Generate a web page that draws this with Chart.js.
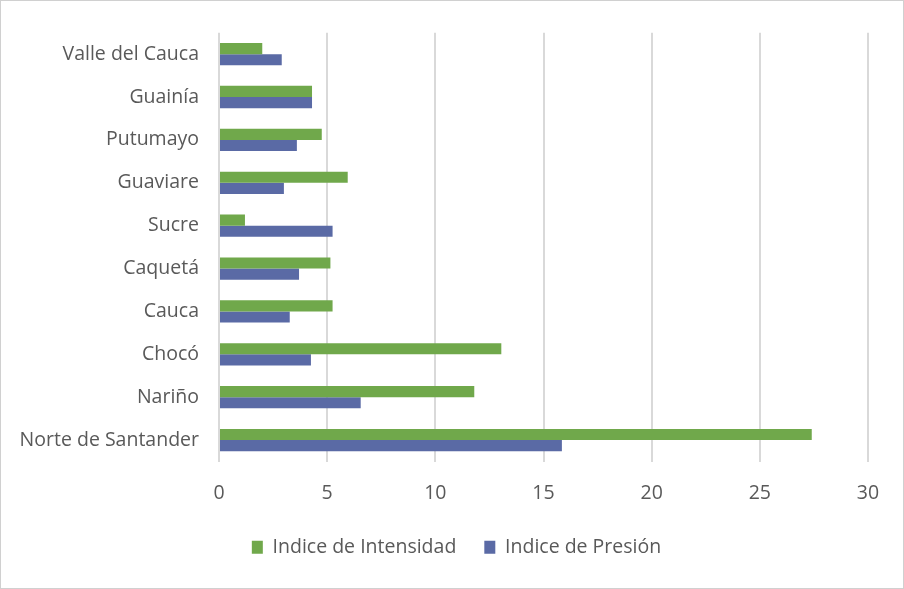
<!DOCTYPE html>
<html>
<head>
<meta charset="utf-8">
<script src="https://cdn.jsdelivr.net/npm/chart.js@4.4.1/dist/chart.umd.min.js"></script>
<style>
  html, body { margin: 0; padding: 0; background: #fff; }
  #wrap { width: 904px; height: 589px; box-sizing: border-box; border: 1px solid #d0d0d0; position: relative; }
</style>
</head>
<body>
<div id="wrap"><canvas id="barChart"></canvas></div>
<script>
const categories = ['Valle del Cauca', 'Guainía', 'Putumayo', 'Guaviare', 'Sucre', 'Caquetá', 'Cauca', 'Chocó', 'Nariño', 'Norte de Santander'];
const intensidad = [2.0, 4.3, 4.75, 5.95, 1.2, 5.15, 5.25, 13.05, 11.8, 27.4];
const presion = [2.9, 4.3, 3.6, 3.0, 5.25, 3.7, 3.27, 4.25, 6.55, 15.85];
const xTicks = [0, 5, 10, 15, 20, 25, 30];

const textFont = { family: 'Open Sans', size: 19.5 };

// nudge the bottom legend a little right of centre, like the original
const legendShift = {
    id: 'legendShift',
    afterLayout(chart) {
        chart.legend.left += 17;
        chart.legend.right += 17;
    }
};

document.addEventListener("DOMContentLoaded", () => {
    const ctx = document.getElementById('barChart').getContext('2d');
    new Chart(ctx, {
        type: 'bar',
        data: {
            labels: categories,
            datasets: [
                {
                    label: 'Indice de Intensidad',
                    data: intensidad,
                    backgroundColor: '#70A84B',
                    categoryPercentage: 0.52,
                    barPercentage: 1.0
                },
                {
                    label: 'Indice de Presión',
                    data: presion,
                    backgroundColor: '#5A6AA5',
                    categoryPercentage: 0.52,
                    barPercentage: 1.0
                }
            ]
        },
        options: {
            indexAxis: 'y',
            responsive: true,
            maintainAspectRatio: false,
            animation: false,
            layout: { padding: { left: 10, right: 35, top: 28, bottom: 21 } },
            plugins: {
                tooltip: { enabled: false },
                legend: {
                    position: 'bottom',
                    labels: {
                        boxWidth: 11,
                        boxHeight: 13,
                        padding: 28,
                        color: '#595959',
                        font: textFont
                    }
                }
            },
            scales: {
                x: {
                    min: 0,
                    max: 30,
                    afterBuildTicks: (axis) => { axis.ticks = xTicks.map(v => ({ value: v })); },
                    grid: { color: '#d9d9d9', lineWidth: 2, drawTicks: false },
                    border: { display: false },
                    ticks: { color: '#595959', padding: 20, font: textFont },
                    afterFit: (axis) => { axis.height = 48; }
                },
                y: {
                    grid: { display: false, drawTicks: false },
                    border: { display: false },
                    ticks: { color: '#595959', padding: 20, font: textFont },
                    afterFit: (axis) => { axis.width = 208; }
                }
            }
        },
        plugins: [legendShift]
    });
});
</script>
</body>
</html>
